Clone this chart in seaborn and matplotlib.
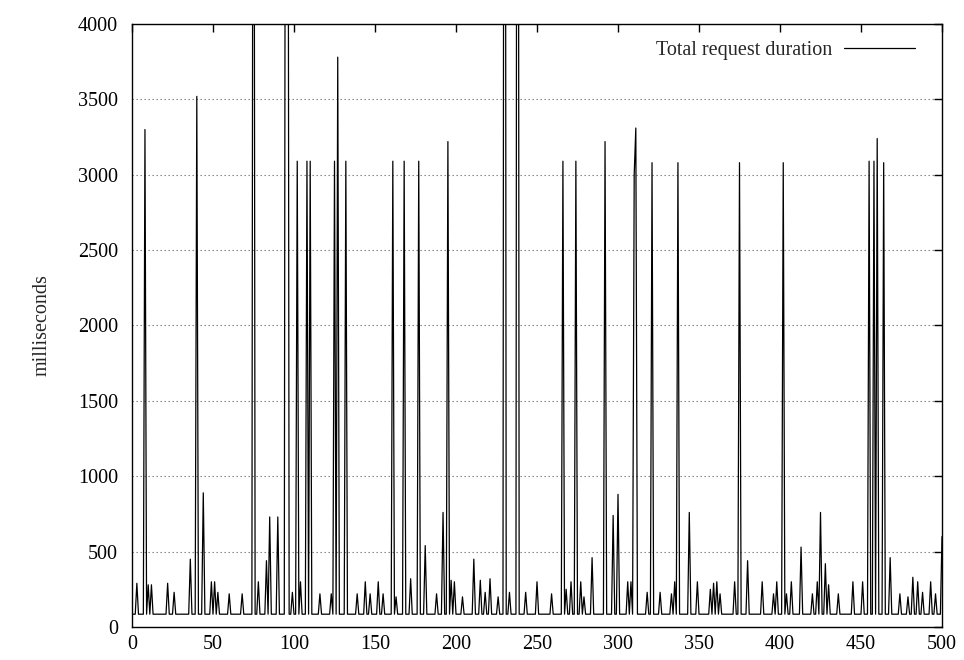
import numpy as np
import pandas as pd
import matplotlib
matplotlib.use("Agg")
import matplotlib.pyplot as plt
import seaborn as sns

# Request durations (ms) for 501 consecutive requests: most requests sit at
# a quiet level, the rest are listed individually below.
n_requests = 501
quiet_ms = 85

spike_request = [
    3, 8, 10, 12, 22, 26, 36, 40, 44, 49, 51, 53, 60, 68, 75, 78, 83, 85, 90,
    95, 96, 99, 102, 104, 108, 110, 116, 123, 125, 127, 132, 139, 144, 147,
    152, 155, 161, 163, 168, 172, 177, 181, 188, 192, 195, 197, 199, 204, 211,
    215, 218, 221, 226, 230, 233, 238, 243, 250, 259, 266, 268, 271, 274, 277,
    279, 284, 292, 297, 300, 306, 308, 310, 311, 318, 321, 326, 333, 335, 337,
    344, 349, 357, 359, 361, 363, 372, 375, 380, 389, 396, 398, 402, 404, 407,
    413, 420, 423, 425, 428, 430, 436, 445, 451, 455, 458, 460, 464, 468, 474,
    479, 482, 485, 488, 493, 496, 500,
]
spike_ms = [
    290, 3300, 280, 280, 290, 230, 450, 3520, 890, 300, 300, 230, 220, 220,
    9000, 300, 440, 730, 730, 9000, 9000, 230, 3090, 300, 3090, 3090, 220, 220,
    3090, 3780, 3090, 220, 300, 220, 300, 220, 3090, 200, 3090, 320, 3090, 540,
    220, 760, 3220, 310, 300, 200, 450, 310, 230, 320, 200, 12000, 230, 12000,
    230, 300, 220, 3090, 250, 300, 3090, 300, 200, 460, 3220, 740, 880, 300,
    300, 3000, 3310, 230, 3080, 230, 220, 300, 3080, 760, 300, 250, 290, 300,
    220, 300, 3080, 440, 300, 220, 300, 3080, 220, 300, 530, 220, 300, 760, 420,
    280, 220, 300, 300, 3090, 3090, 3240, 3080, 460, 220, 200, 330, 300, 230,
    300, 220, 600,
]

duration = np.full(n_requests, quiet_ms, dtype=float)
duration[spike_request] = spike_ms
df = pd.DataFrame({"request": np.arange(n_requests), "ms": duration})

sns.set_theme(style="white")
plt.rcParams["font.family"] = ["Liberation Serif", "DejaVu Serif"]
fs = 14.5

fig = plt.figure(figsize=(9.64, 6.6), dpi=100)
ax = fig.add_axes([132 / 964, 1 - 627 / 660, 810 / 964, 603 / 660])

sns.lineplot(data=df, x="request", y="ms", color="black", linewidth=0.9,
             ax=ax, label="Total request duration")

ax.set_xlim(0, 500)
ax.set_ylim(0, 4000)
ax.set_xticks(range(0, 501, 50))
ax.set_yticks(range(0, 4001, 500))
ax.yaxis.grid(True, linestyle=(0, (1.2, 2.4)), color="#777777", linewidth=0.8)
ax.xaxis.grid(False)
ax.set_axisbelow(True)

ax.tick_params(axis="both", direction="in", length=6, width=1, colors="black",
               top=True, right=True, labelsize=fs)
ax.tick_params(axis="y", pad=10)
ax.tick_params(axis="x", pad=6)
for side in ax.spines.values():
    side.set_color("black")
    side.set_linewidth(1)

ax.set_xlabel("")
ax.set_ylabel("milliseconds", fontsize=fs, labelpad=19)

ax.legend(loc="upper right", bbox_to_anchor=(0.9765, 0.985), borderaxespad=0,
          frameon=False, markerfirst=False, handlelength=3.5,
          handletextpad=0.6, fontsize=fs)

fig.savefig("out.png", dpi=100)
